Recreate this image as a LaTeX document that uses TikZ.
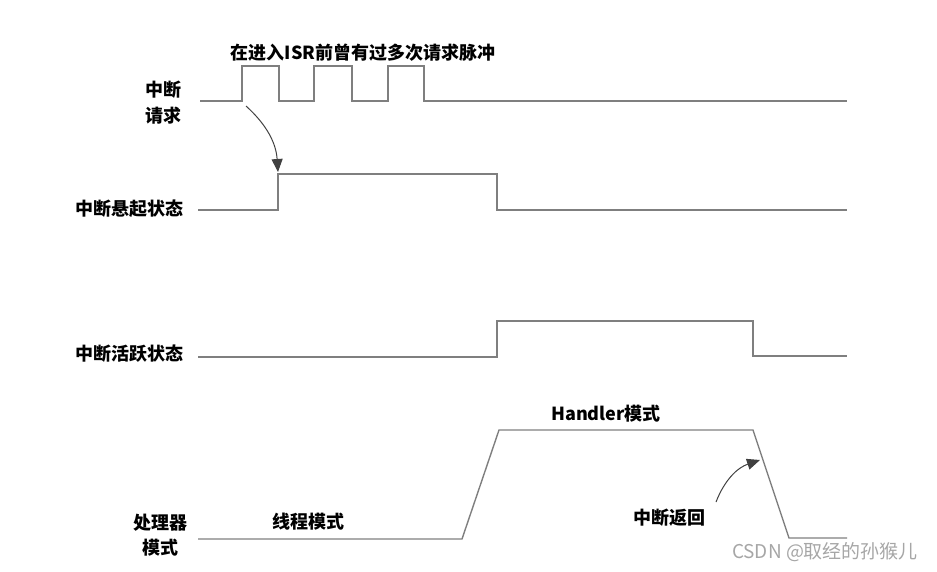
\documentclass[tikz,border=0pt]{standalone}
\usepackage{fontspec}
\setmainfont{Noto Sans CJK SC}
\usetikzlibrary{arrows.meta}
\definecolor{sig}{HTML}{7F7F7F}
\definecolor{wm}{HTML}{A6A6A6}
\tikzset{
  wave/.style={draw=sig, line width=1.4pt, line join=miter},
  lbl/.style={font=\bfseries\fontsize{18}{26}\selectfont, text=black, inner sep=0pt, align=center},
  callout/.style={draw=black!75, line width=1pt, -{Triangle[length=13pt,width=11pt]}},
}
\begin{document}
\begin{tikzpicture}[x=1pt,y=-1pt]
\useasboundingbox (0,0) rectangle (937,571);
% labels
\node[lbl] (req) at (163,103) {中断\\请求};
\node[lbl] (pend) at (129,209) {中断悬起状态};
\node[lbl] (act) at (129,354) {中断活跃状态};
\node[lbl, font=\bfseries\fontsize{18}{25}\selectfont] (mode) at (160,535) {处理器\\模式};
\node[lbl] (multi) at (363,53) {在进入ISR前曾有过多次请求脉冲};
\node[lbl] (handler) at (606,414) {Handler模式};
\node[lbl] (thread) at (308,522) {线程模式};
\node[lbl] (ret) at (669,518) {中断返回};
\node[font=\fontsize{19}{22}\selectfont, text=wm, inner sep=0pt] (wmk) at (825,552) {CSDN @取经的孙猴儿};
% waveforms
\draw[wave] (200,101) -- (242,101) -- (242,66) -- (279,66) -- (279,101) -- (314,101) -- (314,66)
  -- (352,66) -- (352,101) -- (388,101) -- (388,66) -- (424,66) -- (424,101) -- (847,101);
\draw[wave] (198,210) -- (278,210) -- (278,174) -- (497,174) -- (497,210) -- (847,210);
\draw[wave] (198,357) -- (497,357) -- (497,321) -- (753,321) -- (753,356) -- (847,356);
\draw[wave] (198,539) -- (462,539) -- (499,430) -- (753,430) -- (789,538) -- (847,538);
% callout arrows
\coordinate (a1s) at (246,106);
\coordinate (a1e) at (278,172);
\coordinate (a2s) at (716,502);
\coordinate (a2e) at (760,460);
\draw[callout] (a1s) to[bend left=22] (a1e);
\draw[callout] (a2s) to[bend left=25] (a2e);
\end{tikzpicture}
\end{document}
